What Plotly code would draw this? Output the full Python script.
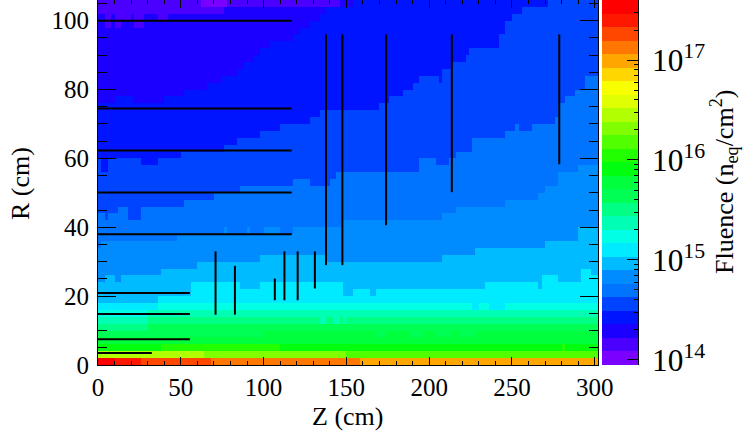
import colorsys
import plotly.graph_objects as go

# ---------------- data ----------------
Z_MAX = 302          # cm
R_MAX = 106          # cm
BIN = 2              # cm, histogram bin size
LOG_MIN = 13.947     # log10 fluence at bottom of palette
LOG_MAX = 17.602     # log10 fluence at top of palette
N_BANDS = 27         # colour contours

# colour band per bin for the lowest R rows (R 0-2, 2-4, ..., 18-20): (Z_start, band)
ROW_0 = [(0, 26), (10, 25), (26, 24), (68, 23), (158, 22)]
ROW_1 = [(0, 18), (64, 17), (150, 16)]
ROW_2 = [(0, 14), (38, 15), (110, 14), (280, 15), (282, 14)]
ROW_3 = [(0, 13)]
ROW_4 = [(0, 12), (100, 13), (168, 12), (174, 13), (188, 12), (196, 13), (204, 12), (214, 13), (218, 12), (228, 13)]
ROW_5 = [(0, 11), (30, 12)]
ROW_6 = [(0, 10), (30, 11), (134, 10), (138, 11), (142, 10), (146, 11), (148, 10), (150, 11)]
ROW_7 = [(0, 9), (30, 10)]
ROW_8 = [(0, 8), (36, 9), (226, 8), (230, 9), (236, 8), (246, 9)]
ROW_9 = [(0, 7), (36, 8)]
LOW_ROWS = [ROW_0, ROW_1, ROW_2, ROW_3, ROW_4, ROW_5, ROW_6, ROW_7, ROW_8, ROW_9]

# upper edge R of the region with band >= k, as step functions of Z: (Z_start, R)
EDGE_1 = [(0, 106), (62, 104), (78, 106)]
EDGE_2 = [(0, 102), (4, 98), (8, 102), (10, 98), (14, 100), (20, 102), (22, 98), (28, 102),
          (36, 100), (42, 102), (76, 104), (146, 106)]
EDGE_3 = [(0, 76), (10, 78), (22, 76), (40, 78), (52, 80), (66, 82), (74, 84), (84, 86), (88, 88),
          (94, 90), (98, 92), (104, 94), (118, 96), (122, 98), (128, 100), (134, 102), (138, 104), (154, 106)]
EDGE_4 = [(0, 60), (2, 56), (6, 60), (26, 58), (36, 60), (50, 62), (76, 64), (84, 66), (98, 68),
          (110, 70), (128, 72), (134, 74), (170, 76), (176, 78), (185, 80), (191, 82), (194, 84),
          (206, 82), (209, 86), (214, 88), (222, 90), (225, 92), (242, 96), (246, 100), (251, 102),
          (257, 104), (273, 106)]
EDGE_5 = [(0, 44), (4, 42), (6, 44), (12, 46), (18, 42), (26, 46), (52, 48), (70, 50), (86, 52),
          (118, 54), (128, 52), (140, 54), (144, 56), (194, 60), (204, 58), (212, 60), (216, 62),
          (226, 66), (246, 68), (252, 70), (254, 68), (262, 70), (276, 72), (278, 76), (282, 78),
          (288, 80), (294, 84)]
EDGE_6 = [(0, 34), (2, 36), (48, 38), (76, 40), (78, 38), (90, 40), (92, 38), (100, 40), (110, 38),
          (118, 40), (148, 42), (208, 44), (216, 46), (246, 48), (266, 50), (270, 52), (278, 56), (290, 58)]
EDGE_7 = [(0, 24), (4, 26), (10, 24), (14, 26), (38, 28), (60, 30), (98, 32), (138, 30), (208, 32),
          (228, 34), (270, 36), (290, 40)]
EDGE_8 = [(0, 18), (36, 20), (56, 24), (86, 22), (98, 24), (149, 20), (155, 22), (164, 20), (168, 22),
          (234, 24), (267, 22), (269, 26), (279, 24), (293, 28), (299, 26)]
EDGES = [EDGE_1, EDGE_2, EDGE_3, EDGE_4, EDGE_5, EDGE_6, EDGE_7, EDGE_8]

# detector layers
H_LAYER_R = [100, 74.5, 62.3, 50.1, 38, 20.9, 14.8, 7.5, 3.5]
H_LAYER_Z0 = [0, 0, 0, 0, 0, 0, 0, 0, 0]
H_LAYER_Z1 = [117, 117, 117, 117, 117, 55.5, 55.5, 55.5, 32.5]
V_LAYER_Z = [71, 82.7, 106.8, 112.6, 120.6, 131, 137.7, 147.6, 174, 213.7, 278.6]
V_LAYER_R0 = [14.6, 14.6, 18.8, 18.8, 18.8, 22.2, 29, 29, 40.6, 50.2, 58.3]
V_LAYER_R1 = [33, 28.8, 25.1, 33, 33, 33, 96, 96, 96, 96, 96]

# ---------------- build ----------------
def step(tbl, z):
    v = tbl[0][1]
    for zs, val in tbl:
        if z >= zs:
            v = val
        else:
            break
    return v

band_w = (LOG_MAX - LOG_MIN) / N_BANDS
zc = [BIN * (i + 0.5) for i in range(Z_MAX // BIN)]
rc = [BIN * (j + 0.5) for j in range(R_MAX // BIN)]
zval = []
for j, r in enumerate(rc):
    row = []
    for z in zc:
        if j < len(LOW_ROWS):
            b = step(LOW_ROWS[j], z)
        else:
            b = sum(1 for e in EDGES if r < step(e, z))
        row.append(LOG_MIN + (b + 0.5) * band_w)
    zval.append(row)

# ROOT "pretty" palette (violet -> red), 27 contour colours
cols = []
for k in range(N_BANDS):
    i = int((k + 0.99) * 50 / N_BANDS)
    hue = 280 - (i + 1) * 5.6
    r, g, b = colorsys.hls_to_rgb((hue % 360) / 360.0, 0.5, 1.0)
    cols.append("rgb(%d,%d,%d)" % (round(r * 255), round(g * 255), round(b * 255)))
cscale = []
for k, c in enumerate(cols):
    cscale.append([k / N_BANDS, c])
    cscale.append([(k + 1) / N_BANDS, c])

FONT = "Liberation Serif, Times New Roman, Times, serif"
fig = go.Figure()
fig.add_trace(go.Heatmap(x=zc, y=rc, z=zval, zmin=LOG_MIN, zmax=LOG_MAX, colorscale=cscale,
                         showscale=False, hoverinfo="skip", zsmooth=False))

lx, ly = [], []
for r, z0, z1 in zip(H_LAYER_R, H_LAYER_Z0, H_LAYER_Z1):
    lx += [z0, z1, None]
    ly += [r, r, None]
for z, r0, r1 in zip(V_LAYER_Z, V_LAYER_R0, V_LAYER_R1):
    lx += [z, z, None]
    ly += [r0, r1, None]
fig.add_trace(go.Scatter(x=lx, y=ly, mode="lines", line=dict(color="black", width=2),
                         hoverinfo="skip", showlegend=False))

# palette axis
edges = [10 ** (LOG_MIN + k * band_w) for k in range(N_BANDS + 1)]
fig.add_trace(go.Heatmap(x=[0, 1], y=edges, z=[[LOG_MIN + (k + 0.5) * band_w] for k in range(N_BANDS)],
                         zmin=LOG_MIN, zmax=LOG_MAX, colorscale=cscale, showscale=False,
                         hoverinfo="skip", xaxis="x2", yaxis="y2"))

L, R_, T, B = 98, 109, 0, 67
W, H = 747, 432
pw = W - L - R_
ph = H - T - B
def px(x):
    return (x - L) / pw
def py(y):
    return (H - B - y) / ph

fig.update_layout(
    width=W, height=H, margin=dict(l=L, r=R_, t=T, b=B),
    paper_bgcolor="white", plot_bgcolor="white", showlegend=False,
    font=dict(family=FONT, color="black", size=25),
    xaxis=dict(domain=[0, px(598)], range=[0, Z_MAX], dtick=50, tick0=0, ticks="inside", ticklen=8,
               tickwidth=1, tickcolor="black", showline=True, linecolor="black", linewidth=1,
               mirror="ticks", showgrid=False, zeroline=False,
               minor=dict(dtick=10, ticks="inside", ticklen=4, tickcolor="black", showgrid=False),
               tickfont=dict(family=FONT, size=25), ticklabelstandoff=0, anchor="y"),
    yaxis=dict(domain=[0, 1], range=[0, R_MAX], dtick=20, tick0=0, ticks="inside", ticklen=18,
               tickwidth=1, tickcolor="black", showline=True, linecolor="black", linewidth=1,
               mirror="ticks", showgrid=False, zeroline=False,
               minor=dict(dtick=5, ticks="inside", ticklen=9, tickcolor="black", showgrid=False),
               tickfont=dict(family=FONT, size=25), ticklabelstandoff=3, anchor="x"),
    xaxis2=dict(domain=[px(602), 1], range=[0, 1], visible=False, anchor="y2"),
    yaxis2=dict(domain=[0, 1], type="log", range=[LOG_MIN, LOG_MAX], anchor="x2", side="right",
                dtick=1, exponentformat="power", showexponent="all",
                ticks="inside", ticklen=11, tickwidth=1, tickcolor="black",
                showline=True, linecolor="black", linewidth=1, showgrid=False, zeroline=False,
                minor=dict(dtick="D1", ticks="inside", ticklen=4, tickcolor="black", showgrid=False),
                tickfont=dict(family=FONT, size=25), ticklabelstandoff=8),
    annotations=[
        dict(text="Z (cm)", x=px(347), y=py(416), xref="paper", yref="paper", showarrow=False,
             xanchor="center", yanchor="middle", font=dict(family=FONT, size=26)),
        dict(text="R (cm)", x=px(21), y=py(184), xref="paper", yref="paper", showarrow=False,
             textangle=-90, xanchor="center", yanchor="middle", font=dict(family=FONT, size=26)),
        dict(text="Fluence (n<sub>eq</sub>/cm<sup>2</sup>)", x=px(724), y=py(182), xref="paper",
             yref="paper", showarrow=False, textangle=-90, xanchor="center", yanchor="middle",
             font=dict(family=FONT, size=26)),
    ],
)

fig.write_html("out.html", config={"displayModeBar": False},
               post_script="document.body.style.margin='0';document.body.style.padding='0';")
